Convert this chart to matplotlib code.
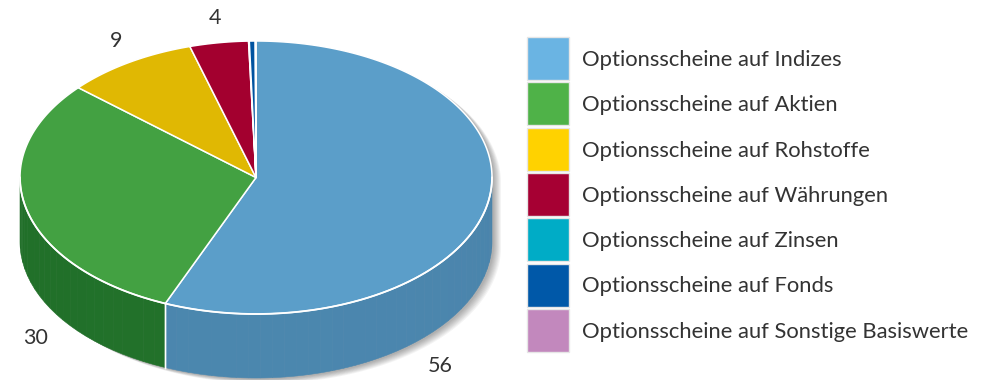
import numpy as np
import matplotlib
matplotlib.use("Agg")
import matplotlib.pyplot as plt
from matplotlib.patches import Polygon, Rectangle

# Anteile der Optionsscheine nach Basiswert (in %)
categories = [
    "Optionsscheine auf Indizes",
    "Optionsscheine auf Aktien",
    "Optionsscheine auf Rohstoffe",
    "Optionsscheine auf Währungen",
    "Optionsscheine auf Zinsen",
    "Optionsscheine auf Fonds",
    "Optionsscheine auf Sonstige Basiswerte",
]
values = [56, 30, 9, 4, 0.05, 0.4, 0.05]
labels = ["56", "30", "9", "4", "", "", ""]

legend_colors = ["#6ab4e3", "#4fb248", "#ffd200", "#a60033", "#00acc6", "#0058a8", "#c288bd"]
top_colors = ["#5b9ec9", "#43a142", "#e0b803", "#a3002f", "#0099b2", "#0053a0", "#b07aac"]
side_colors = ["#4a84ab", "#216f29", "#b89500", "#7e0024", "#00788c", "#003f7a", "#8a5e87"]

# pie geometry in pixel units
CX, CY, RX, RY, DEPTH = 256, 177.5, 236, 136.5, 64

FONT = ["Lato", "DejaVu Sans"]
TEXT = "#333333"


def pt(theta, dy=0.0):
    # theta: degrees clockwise from 12 o'clock
    t = np.radians(theta)
    return CX + RX * np.sin(t), CY - RY * np.cos(t) + dy


def arc(a0, a1, dy=0.0, n=None):
    n = n or max(2, int(abs(a1 - a0) * 2) + 2)
    th = np.linspace(a0, a1, n)
    x, y = pt(th, dy)
    return np.column_stack([x, y])


fig = plt.figure(figsize=(9.93, 3.80), dpi=100)
ax = fig.add_axes([0, 0, 1, 1])
ax.set_xlim(0, 993)
ax.set_ylim(380, 0)
ax.axis("off")

total = sum(values)
angles = np.concatenate([[0], np.cumsum(values) / total * 360])

# soft drop shadow under the cylinder
shade = np.vstack([arc(90, 270, DEPTH), arc(270, 450, 0)])
for k in range(8, 0, -1):
    off = 1 + k * 1.0
    ax.add_patch(Polygon(shade + [off, off * 0.6], closed=True,
                         facecolor="black", edgecolor="none", alpha=0.045, zorder=1))

# side walls (front half only: 90..270 deg)
for i, (a0, a1) in enumerate(zip(angles[:-1], angles[1:])):
    lo, hi = max(a0, 90), min(a1, 270)
    if hi <= lo:
        continue
    steps = np.linspace(lo, hi, max(2, int(hi - lo) // 3 + 2))
    base = np.array(matplotlib.colors.to_rgb(side_colors[i]))
    for s0, s1 in zip(steps[:-1], steps[1:]):
        mid = 0.5 * (s0 + s1)
        f = 1.0 + 0.06 * np.sin(np.radians(mid - 90)) - 0.04 * np.cos(np.radians(mid - 180))
        col = np.clip(base * f, 0, 1)
        poly = np.vstack([arc(s0, s1, 0, 4), arc(s1, s0, DEPTH, 4)])
        ax.add_patch(Polygon(poly, closed=True, facecolor=col, edgecolor=col,
                             linewidth=0.4, zorder=2))
    # white vertical seam at slice boundaries facing the viewer
    for b in (a0, a1):
        if 90 < b < 270:
            x0, y0 = pt(b)
            ax.plot([x0, x0], [y0, y0 + DEPTH], color="white", lw=1.0, zorder=3)

# top face
for i, (a0, a1) in enumerate(zip(angles[:-1], angles[1:])):
    poly = np.vstack([[CX, CY], arc(a0, a1, 0)])
    ax.add_patch(Polygon(poly, closed=True, facecolor=top_colors[i],
                         edgecolor="white", linewidth=1.1, joinstyle="round", zorder=4))
ax.plot(*arc(90, 270, 0).T, color="white", lw=1.3, zorder=5)

# value labels placed outside the pie
label_pos = {0: (440, 366), 1: (36, 338), 2: (116, 41), 3: (215, 18)}
for i, txt in enumerate(labels):
    if txt:
        x, y = label_pos[i]
        ax.text(x, y, txt, fontsize=15.5, family=FONT, color=TEXT,
                ha="center", va="center", zorder=6)

# legend
lx, ly, sw, sh, pitch = 527, 37, 42, 43, 45.3
for i, (name, col) in enumerate(zip(categories, legend_colors)):
    y = ly + i * pitch
    ax.add_patch(Rectangle((lx, y), sw, sh, facecolor=col, edgecolor="#e6e6e6",
                           linewidth=1.0, zorder=6))
    ax.text(lx + 55, y + sh / 2 + 1.5, name, fontsize=15.8, family=FONT, color=TEXT,
            ha="left", va="center", zorder=6)

fig.savefig("out.png", dpi=100, facecolor="white")
